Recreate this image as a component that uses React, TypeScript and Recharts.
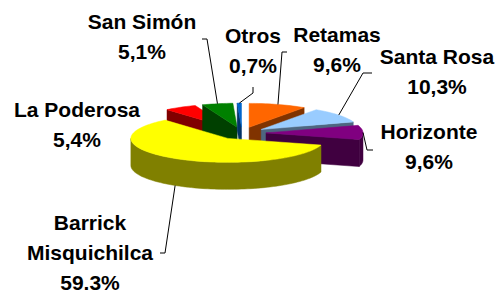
import React from "react";
import { PieChart, Pie } from "recharts";

// clockwise from 12 o'clock, as Excel laid it out
const categories = [
  "Retamas",
  "Santa Rosa",
  "Horizonte",
  "Barrick Misquichilca",
  "La Poderosa",
  "San Simón",
  "Otros",
];
const shares = [9.6, 10.3, 9.6, 59.3, 5.4, 5.1, 0.7];
const shareLabels = ["9,6%", "10,3%", "9,6%", "59.3%", "5,4%", "5,1%", "0,7%"];

const topColors = ["#FF6600", "#99CCFF", "#800080", "#FFFF00", "#FF0000", "#008000", "#0066CC"];
const sideColors = ["#803300", "#4D6680", "#400040", "#808000", "#800000", "#004000", "#003366"];
const explode = [24, 24, 24, 26, 24, 24, 24];

// text anchor (first baseline) and elbow of the leader line
const labelLayout = [
  { x: 337, y: 42, wrap: false, path: [[282, 52], [287, 52]] },
  { x: 437, y: 64, wrap: false, path: [[363, 73], [372, 73]] },
  { x: 429, y: 139, wrap: false, path: [[367, 150], [373, 150]] },
  { x: 90, y: 230, wrap: true, path: [[165, 253], [160, 253]] },
  { x: 77, y: 117, wrap: false, path: [] },
  { x: 142, y: 29, wrap: false, path: [[207, 39], [202, 39]] },
  { x: 253, y: 43, wrap: false, path: [[253, 93], [253, 87]] },
];

const BARRICK = 3;
const TILT = 0.247;
const DEPTH = 27;
const LINE_H = 30;

const data = categories.map((name, i) => ({ name, value: shares[i], idx: i }));

const rad = (d: number) => (d * Math.PI) / 180;

function arc(ox: number, oy: number, rx: number, ry: number, from: number, to: number, dy = 0) {
  const pts: string[] = [];
  const steps = Math.max(2, Math.ceil(Math.abs(to - from) / 2));
  for (let s = 0; s <= steps; s++) {
    const t = from + ((to - from) * s) / steps;
    pts.push(`${ox + rx * Math.sin(rad(t))},${oy - ry * Math.cos(rad(t)) + dy}`);
  }
  return pts;
}

function sliceCenter(cx: number, cy: number, rx: number, mid: number, e: number) {
  return {
    ox: cx + e * Math.sin(rad(mid)),
    oy: cy - e * Math.cos(rad(mid)) * TILT,
  };
}

function Slice3D(props: any, show: (i: number) => boolean) {
  const { cx, cy, startAngle, endAngle, outerRadius } = props;
  const i = props.idx ?? props.payload?.idx ?? props.index;
  if (!show(i)) return <g />;
  const rx = outerRadius;
  const ry = rx * TILT;
  const a0 = 90 - startAngle;
  const a1 = 90 - endAngle;
  const mid = (a0 + a1) / 2;
  const { ox, oy } = sliceCenter(cx, cy, rx, mid, explode[i]);
  const P = (t: number) => [ox + rx * Math.sin(rad(t)), oy - ry * Math.cos(rad(t))];
  const side = sideColors[i];
  const parts: React.ReactNode[] = [];

  // radial faces that turn toward the viewer
  if (Math.sin(rad(a0)) < 0) {
    const [x, y] = P(a0);
    parts.push(
      <polygon key="f0" points={`${ox},${oy} ${x},${y} ${x},${y + DEPTH} ${ox},${oy + DEPTH}`} fill={side} stroke={side} strokeWidth={0.5} />
    );
  }
  if (Math.sin(rad(a1)) > 0) {
    const [x, y] = P(a1);
    parts.push(
      <polygon key="f1" points={`${ox},${oy} ${x},${y} ${x},${y + DEPTH} ${ox},${oy + DEPTH}`} fill={side} stroke={side} strokeWidth={0.5} />
    );
  }
  // front wall
  const s = Math.max(a0, 90);
  const e = Math.min(a1, 270);
  if (e > s) {
    const top = arc(ox, oy, rx, ry, s, e);
    const bottom = arc(ox, oy, rx, ry, e, s, DEPTH);
    parts.push(
      <polygon key="wall" points={[...top, ...bottom].join(" ")} fill={side} stroke={side} strokeWidth={0.5} />
    );
  }
  // top surface
  const topPts = [`${ox},${oy}`, ...arc(ox, oy, rx, ry, a0, a1)];
  parts.push(
    <polygon key="top" points={topPts.join(" ")} fill={topColors[i]} stroke={topColors[i]} strokeWidth={0.5} />
  );
  return <g>{parts}</g>;
}

const backSlices = (p: any) => Slice3D(p, (i) => i !== BARRICK);
const frontSlice = (p: any) => Slice3D(p, (i) => i === BARRICK);

function renderLabel(props: any) {
  const { cx, cy, midAngle, outerRadius } = props;
  const i = props.idx ?? props.payload?.idx ?? props.index;
  const lay = labelLayout[i];
  const rx = outerRadius;
  const ry = rx * TILT;
  const mid = 90 - midAngle;
  const { ox, oy } = sliceCenter(cx, cy, rx, mid, explode[i]);
  const sx = ox + rx * Math.sin(rad(mid));
  const sy = oy - ry * Math.cos(rad(mid)) + (Math.cos(rad(mid)) < 0 ? DEPTH : 0);
  const lines = lay.wrap ? [...categories[i].split(" "), shareLabels[i]] : [categories[i], shareLabels[i]];
  return (
    <g key={`lbl-${i}`}>
      {lay.path.length > 0 && (
        <polyline
          points={[[sx, sy], ...lay.path].map((p) => p.join(",")).join(" ")}
          fill="none"
          stroke="#000"
          strokeWidth={1}
        />
      )}
      {lines.map((t, k) => (
        <text
          key={k}
          x={lay.x}
          y={lay.y + k * LINE_H}
          textAnchor="middle"
          fontFamily="'Liberation Sans', Arial, sans-serif"
          fontWeight="bold"
          fontSize={21}
          fill="#000"
        >
          {t}
        </text>
      ))}
    </g>
  );
}

export default function App() {
  return (
    <div style={{ position: "absolute", left: 0, top: 0, width: 499, height: 291, background: "#fff" }}>
      <PieChart width={499} height={291} margin={{ top: 0, right: 0, bottom: 0, left: 0 }}>
        <Pie
          data={data}
          dataKey="value"
          nameKey="name"
          cx={242}
          cy={133}
          outerRadius={97}
          startAngle={90}
          endAngle={-270}
          stroke="none"
          isAnimationActive={false}
          shape={backSlices}
          activeShape={backSlices}
          inactiveShape={backSlices}
        />
        <Pie
          data={data}
          dataKey="value"
          nameKey="name"
          cx={242}
          cy={133}
          outerRadius={97}
          startAngle={90}
          endAngle={-270}
          stroke="none"
          isAnimationActive={false}
          shape={frontSlice}
          activeShape={frontSlice}
          inactiveShape={frontSlice}
          label={renderLabel}
          labelLine={false}
        />
      </PieChart>
    </div>
  );
}
